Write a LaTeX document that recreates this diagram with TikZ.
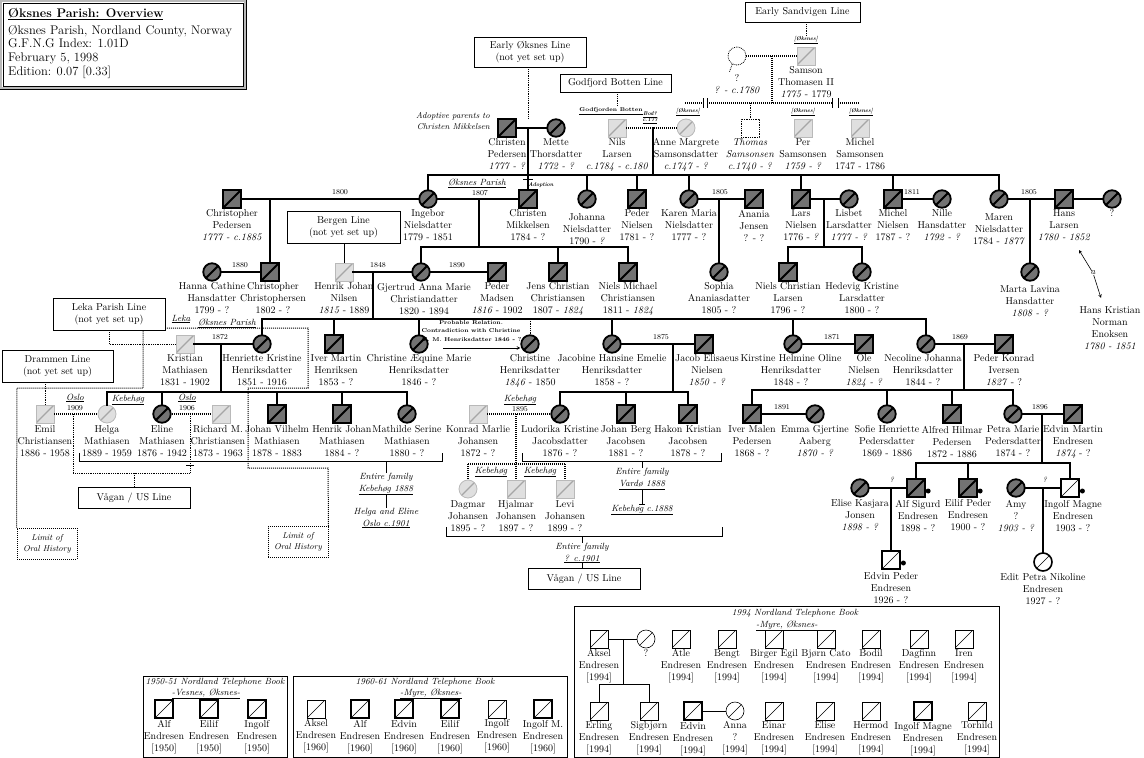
\documentclass[tikz,border=0pt]{standalone}
\usepackage{fontspec}
\usepackage{tikz}
\usetikzlibrary{positioning,calc,arrows}

\newcommand{\yr}[1]{\textit{#1}}
\newcommand{\seen}[1]{{[#1]}}

\begin{document}
\begin{tikzpicture}[
    x=1pt, y=-1pt,
    sym/.style={draw, line width=1.8pt, fill=black!55, minimum size=17.5pt, inner sep=0pt,
      path picture={\draw[line width=2pt] (path picture bounding box.south west) -- (path picture bounding box.north east);}},
    male/.style={sym, rectangle},
    female/.style={sym, circle},
    pale/.style={draw=gray!55, line width=0.8pt, fill=gray!25, minimum size=18pt, inner sep=0pt,
      path picture={\draw[gray!70, line width=1.2pt] (path picture bounding box.south west) -- (path picture bounding box.north east);}},
    palem/.style={pale, rectangle},
    palef/.style={pale, circle},
    open/.style={draw, line width=0.6pt, fill=white, minimum size=18pt, inner sep=0pt,
      path picture={\draw[line width=0.6pt] (path picture bounding box.south west) -- (path picture bounding box.north east);}},
    openm/.style={open, rectangle},
    openf/.style={open, circle},
    openmh/.style={open, rectangle, line width=1.8pt},
    who/.style={font=\fontsize{10}{12}\selectfont, align=center, inner sep=0pt},
    yrl/.style={font=\fontsize{7.5}{8}\selectfont, inner sep=0pt},
    smalltag/.style={font=\fontsize{5.5}{6}\selectfont\bfseries\itshape, inner sep=0pt, align=center},
    loc/.style={font=\fontsize{9}{12}\selectfont\itshape, inner sep=0pt, align=center},
    linebox/.style={draw, line width=0.6pt, fill=white, font=\fontsize{10}{12}\selectfont, align=center, inner sep=0pt},
    fam/.style={line width=2.6pt, line cap=rect},
    dfam/.style={line width=1.5pt, dash pattern=on 1pt off 1pt},
    link/.style={line width=0.6pt},
    dlink/.style={line width=0.8pt, densely dotted},
    parish/.style={line width=1pt, densely dotted},
    bullet/.style={circle, fill, inner sep=0pt, minimum size=5pt},
    arrow/.style={->, >=stealth, line width=0.6pt}
]
\useasboundingbox (0,0) rectangle (1144,758);

% Title box
\node[draw, line width=0.6pt, minimum width=240pt, minimum height=83pt, inner sep=0pt] (head) at (123,44.5) {};
\draw[gray!55, line width=2.4pt] ($(head.north west)+(-1.5,-1.5)$) rectangle ($(head.south east)+(1.5,1.5)$);
\draw[line width=0.6pt] ($(head.north west)+(-3,-3)$) rectangle ($(head.south east)+(3,3)$);
\node[anchor=north west, align=left, inner sep=0pt, font=\fontsize{12.5}{13.7}\selectfont] (headT) at (8,8)
  {\textbf{\underline{Øksnes Parish: Overview}}\\[3pt]Øksnes Parish, Nordland County, Norway\\G.F.N.G Index: 1.01D\\February 5, 1998\\Edition: 0.07 [0.33]};

% Early Sandvigen line
\node[linebox, minimum width=115pt, minimum height=20pt] (sandvig) at (802.5,12) {Early Sandvigen Line};
\node[smalltag] (oks0) at (806,40) {\underline{[Øksnes]}};
\node[palem] (samson) at (806,56) {};
\node[who, below=1pt of samson] (samsonT) {Samson\\Thomasen II\\\yr{1775} - 1779};
\node[circle, draw, densely dotted, line width=0.8pt, minimum size=18pt, inner sep=0pt] (qmom) at (737,56) {};
\draw[dlink] (qmom.240) -- ++(-3,8);
\node[who, below=9pt of qmom] (qmomT) {?\\\yr{? - c.1780}};
\draw[dlink] (sandvig.south -| oks0) -- (oks0);
\draw[dfam] (qmom) -- (samson);
\coordinate (sv) at (772,56);
\coordinate (svK) at (772,103);
\draw[dfam] (sv) -- (svK);

% broken sibling line of Samson's children
\coordinate (sibA) at (685,103);
\coordinate (cutA) at (703,103);
\coordinate (cutB) at (707,103);
\coordinate (cutC) at (832,103);
\coordinate (cutD) at (838,103);
\coordinate (sibB) at (860,103);
\draw[dfam] (sibA) -- (cutA);
\draw[dfam] (cutB) -- (cutC);
\draw[dfam] (cutD) -- (sibB);
\foreach \c in {cutA, cutB, cutC, cutD}
  \draw[link] ($(\c)+(0,-5)$) -- ($(\c)+(0,5)$);
\node[smalltag] (oks1) at (688,112) {\underline{[Øksnes]}};
\node[smalltag] (oks2) at (803,112) {\underline{[Øksnes]}};
\node[smalltag] (oks3) at (861,112) {\underline{[Øksnes]}};

\node[palef] (anne) at (686,128) {};
\node[draw, densely dotted, line width=0.8pt, minimum size=18pt, inner sep=0pt] (thomas) at (750,128) {};
\node[palem] (per) at (803,128) {};
\node[palem] (michel) at (860,128) {};
\draw[dlink] (svK -| thomas) -- (thomas);
\node[who, below=1pt of anne] (anneT) {Anne Margrete\\Samsonsdatter\\\yr{c.1747 - ?}};
\node[who, below=1pt of thomas] (thomasT) {\textit{Thomas}\\\textit{Samsonsen}\\\yr{c.1740 - ?}};
\node[who, below=1pt of per] (perT) {Per\\Samsonsen\\\yr{1759 - ?}};
\node[who, below=1pt of michel] (michelT) {Michel\\Samsonsen\\1747 - 1786};

% Godfjord Botten
\node[linebox, minimum width=111pt, minimum height=18pt] (godfjord) at (615.5,83) {Godfjord Botten Line};
\node[smalltag, font=\fontsize{5.5}{6}\selectfont\bfseries] (gbl) at (611,111) {\underline{Godfjorden Botten}};
\coordinate (gb) at (617,106);
\draw[dlink] (godfjord.south -| gb) -- (gb);
\node[palem] (nils) at (617,128) {};
\node[who, below=1pt of nils] (nilsT) {Nils\\Larsen\\\yr{c.1784 - c.180}};
\draw[dfam] (nils) -- (anne);
\node[smalltag] (bod) at (650,118) {\underline{Bod?}\\\underline{c.177}};
\coordinate (na) at (653,128);
\coordinate (naK) at (653,175);
\draw[fam] (na) -- (naK);

% Early Oksnes
\node[linebox, minimum width=112pt, minimum height=30pt] (earlyoks) at (530,52) {Early Øksnes Line\\(not yet set up)};
\coordinate (eo) at (528,118);
\draw[dlink] (earlyoks.south -| eo) -- (eo);
\node[male] (chrped) at (507,128) {};
\node[female] (mette) at (556,128) {};
\node[who, below=1pt of chrped] (chrpedT) {Christen\\Pedersen\\\yr{1777 - ?}};
\node[who, below=1pt of mette] (metteT) {Mette\\Thorsdatter\\\yr{1772 - ?}};
\draw[fam] (chrped) -- (mette);
\node[loc, align=right, anchor=east, font=\fontsize{8.5}{11}\selectfont\itshape] (adoptT) at (490,121) {Adoptive parents to\\Christen Mikkelsen};
\coordinate (ad) at (528,128);

% Generation: Nielsen children
\node[male] (chrisp) at (232,199) {};
\node[female] (ingebor) at (428,199) {};
\node[male] (chmik) at (528,199) {};
\node[female] (johanna) at (587,199) {};
\node[male] (pedniel) at (637,199) {};
\node[female] (karen) at (689,199) {};
\node[male] (anania) at (754,199) {};
\node[male] (lars) at (801,199) {};
\node[female] (lisbet) at (849,199) {};
\node[male] (michniel) at (893,199) {};
\node[female] (nille) at (942,199) {};
\node[female] (maren) at (999,199) {};
\node[male] (hans) at (1064,199) {};
\node[female] (hansw) at (1112,199) {};

\node[who, below=1pt of chrisp] (chrispT) {Christopher\\Pedersen\\\yr{1777 - c.1885}};
\node[who, below=1pt of ingebor] (ingeborT) {Ingebor\\Nielsdatter\\1779 - 1851};
\node[who, below=1pt of chmik] (chmikT) {Christen\\Mikkelsen\\1784 - ?};
\node[who, below=5pt of johanna] (johannaT) {Johanna\\Nielsdatter\\1790 - \yr{?}};
\node[who, below=1pt of pedniel] (pednielT) {Peder\\Nielsen\\1781 - ?};
\node[who, below=1pt of karen] (karenT) {Karen Maria\\Nielsdatter\\1777 - ?};
\node[who, below=1pt of anania] (ananiaT) {Anania\\Jensen\\? - ?};
\node[who, below=1pt of lars] (larsT) {Lars\\Nielsen\\1776 - \yr{?}};
\node[who, below=1pt of lisbet] (lisbetT) {Lisbet\\Larsdatter\\\yr{1777 - ?}};
\node[who, below=1pt of michniel] (michnielT) {Michel\\Nielsen\\1787 - ?};
\node[who, below=1pt of nille] (nilleT) {Nille\\Hansdatter\\\yr{1792 - ?}};
\node[who, below=5pt of maren] (marenT) {Maren\\Nielsdatter\\1784 - \yr{1877}};
\node[who, below=1pt of hans] (hansT) {Hans\\Larsen\\\yr{1780 - 1852}};
\node[who, below=1pt of hansw] (hanswT) {?};

\draw[fam] (ingebor |- naK) -- (maren |- naK);
\foreach \c in {ingebor, johanna, pedniel, karen, lars, michniel, maren}
  \draw[fam] (\c |- naK) -- (\c);
\draw[fam] (ad) -- (chmik);
\draw[line width=1pt] (523,179.5) -- (533,179.5);
\node[smalltag] (adoptL) at (541,185) {Adoption};

\draw[fam] (chrisp) -- (ingebor);
\node[yrl] (y1800) at (340,192) {1800};
\draw[fam] (ingebor) -- (chmik);
\node[loc] (oksp1) at (477,183) {\underline{Øksnes Parish}};
\node[yrl] (y1807) at (480,193) {1807};
\draw[fam] (karen) -- (anania);
\node[yrl] (y1805a) at (720,192) {1805};
\draw[fam] (lars) -- (lisbet);
\draw[fam] (michniel) -- (nille);
\node[yrl] (y1811) at (912,192) {1811};
\draw[fam] (maren) -- (hans);
\node[yrl] (y1805b) at (1029,192) {1805};
\draw[fam] (hans) -- (hansw);

% Generation: grandchildren
\node[linebox, minimum width=113pt, minimum height=32pt] (bergen) at (343.5,227) {Bergen Line\\(not yet set up)};
\node[female] (hanna) at (212,272) {};
\node[male] (chrchr) at (270,272) {};
\node[palem] (henrik) at (344,272) {};
\node[female] (gjert) at (421,272) {};
\node[male] (pedmad) at (497,272) {};
\node[male] (jens) at (558,272) {};
\node[male] (nielsm) at (628,272) {};
\node[female] (sophia) at (719,272) {};
\node[male] (nchrl) at (788,272) {};
\node[female] (hedevig) at (862,272) {};
\node[female] (marta) at (1030,272) {};

\node[who, below=1pt of hanna] (hannaT) {Hanna Cathine\\Hansdatter\\1799 - ?};
\node[who, below=1pt of chrchr, xshift=3pt] (chrchrT) {Christopher\\Christophersen\\1802 - ?};
\node[who, below=1pt of henrik] (henrikT) {Henrik Johan\\Nilsen\\\yr{1815} - 1889};
\node[who, below=1pt of gjert, xshift=3pt] (gjertT) {Gjertrud Anna Marie\\Christiandatter\\1820 - 1894};
\node[who, below=1pt of pedmad] (pedmadT) {Peder\\Madsen\\\yr{1816} - 1902};
\node[who, below=1pt of jens] (jensT) {Jens Christian\\Christiansen\\1807 - \yr{1824}};
\node[who, below=1pt of nielsm] (nielsmT) {Niels Michael\\Christiansen\\1811 - \yr{1824}};
\node[who, below=1pt of sophia] (sophiaT) {Sophia\\Ananiasdatter\\1805 - ?};
\node[who, below=1pt of nchrl] (nchrlT) {Niels Christian\\Larsen\\1796 - ?};
\node[who, below=1pt of hedevig] (hedevigT) {Hedevig Kristine\\Larsdatter\\1800 - ?};
\node[who, below=4pt of marta] (martaT) {Marta Lavina\\Hansdatter\\\yr{1808 - ?}};

\coordinate (cpi) at (270,199);
\draw[fam] (cpi) -- (chrchr);
\coordinate (ic) at (479,199);
\coordinate (icK) at (479,247);
\draw[fam] (ic) -- (icK);
\draw[fam] (gjert |- icK) -- (nielsm |- icK);
\foreach \c in {gjert, jens, nielsm}
  \draw[fam] (\c |- icK) -- (\c);
\coordinate (ka) at (719,199);
\draw[fam] (ka) -- (sophia);
\coordinate (ll) at (824,199);
\coordinate (llK) at (824,247);
\draw[fam] (ll) -- (llK);
\draw[fam] (nchrl |- llK) -- (hedevig |- llK);
\foreach \c in {nchrl, hedevig}
  \draw[fam] (\c |- llK) -- (\c);
\coordinate (mh) at (1030,199);
\draw[fam] (mh) -- (marta);
\draw[link] (bergen.south -| henrik) -- (henrik);

% Hans Larsen aka Hans Kristian
\node[who] (hkne) at (1110,328) {Hans Kristian\\Norman\\Enoksen\\\yr{1780 - 1851}};
\node[loc] (aka) at (1093,273) {a};
\coordinate (hlA) at (1079,250);
\coordinate (hkA) at (1101,298);
\draw[arrow] (aka) -- (hlA);
\draw[arrow] (aka) -- (hkA);

% Generation: Henriksen children
\node[linebox, minimum width=112pt, minimum height=32pt] (leka) at (109,314) {Leka Parish Line\\(not yet set up)};
\node[linebox, minimum width=111pt, minimum height=32pt] (drammen) at (57.5,366) {Drammen Line\\(not yet set up)};
\node[palem] (kristian) at (185,344) {};
\node[female] (henriette) at (262,344) {};
\node[male] (ivermar) at (334,344) {};
\node[female] (chraeq) at (419,344) {};
\node[female] (christine) at (530,344) {};
\node[female] (jacobine) at (612,344) {};
\node[male] (jacob) at (704,344) {};
\node[female] (kirstine) at (793,344) {};
\node[male] (ole) at (864,344) {};
\node[female] (necoline) at (926,344) {};
\node[male] (pedkon) at (1004,344) {};

\node[who, below=1pt of kristian] (kristianT) {Kristian\\Mathiasen\\1831 - 1902};
\node[who, below=1pt of henriette] (henrietteT) {Henriette Kristine\\Henriksdatter\\1851 - 1916};
\node[who, below=1pt of ivermar, xshift=2pt] (ivermarT) {Iver Martin\\Henriksen\\1853 - ?};
\node[who, below=1pt of chraeq] (chraeqT) {Christine Æquine Marie\\Henriksdatter\\1846 - ?};
\node[who, below=1pt of christine] (christineT) {Christine\\Henriksdatter\\\yr{1846} - 1850};
\node[who, below=1pt of jacobine] (jacobineT) {Jacobine Hansine Emelie\\Henriksdatter\\1858 - ?};
\node[who, below=1pt of jacob, xshift=3pt] (jacobT) {Jacob Elisaeus\\Nielsen\\\yr{1850 - ?}};
\node[who, below=1pt of kirstine, xshift=-2pt] (kirstineT) {Kirstine Helmine Oline\\Henriksdatter\\1848 - ?};
\node[who, below=1pt of ole] (oleT) {Ole\\Nielsen\\\yr{1824 - ?}};
\node[who, below=1pt of necoline, xshift=-3pt] (necolineT) {Necoline Johanna\\Henriksdatter\\1844 - ?};
\node[who, below=1pt of pedkon] (pedkonT) {Peder Konrad\\Iversen\\\yr{1827} - ?};

\draw[fam] (hanna) -- (chrchr);
\node[yrl] (y1880) at (240,265) {1880};
\draw[fam] (henrik) -- (gjert);
\node[yrl] (y1848) at (378,265) {1848};
\draw[fam] (gjert) -- (pedmad);
\node[yrl] (y1890) at (457,265) {1890};
\coordinate (hg) at (373,272);
\coordinate (hgK) at (373,319);
\draw[fam] (hg) -- (hgK);
\draw[fam] (henriette |- hgK) -- (necoline |- hgK);
\foreach \c in {henriette, ivermar, chraeq, jacobine, kirstine, necoline}
  \draw[fam] (\c |- hgK) -- (\c);
\draw[dlink] (christine |- hgK) -- (christine);
\node[smalltag, font=\fontsize{5.6}{8.5}\selectfont\bfseries] (probT) at (471,331) {Probable Relation.\\Contradiction with Christine\\Æ. M. Henriksdatter 1846 - ?};
\coordinate (prA) at (443,348);
\draw[arrow] (prA) -- (christine.west |- prA);
\draw[dlink] (leka) |- (kristian);

% Generation: great-grandchildren
\node[palem] (emil) at (45,414) {};
\node[palef] (helga) at (107,414) {};
\node[female] (eline) at (162,414) {};
\node[palem] (richard) at (221,414) {};
\node[male] (johvil) at (277,414) {};
\node[male] (henjoh) at (342,414) {};
\node[female] (mathilde) at (407,414) {};
\node[palem] (konrad) at (478,414) {};
\node[female] (ludorika) at (560,414) {};
\node[male] (johberg) at (626,414) {};
\node[male] (hakon) at (688,414) {};
\node[male] (ivermal) at (752,414) {};
\node[female] (emma) at (815,414) {};
\node[female] (sofie) at (887,414) {};
\node[male] (alfred) at (952,414) {};
\node[female] (petra) at (1013,414) {};
\node[male] (edvinm) at (1073,414) {};

\node[who, below=2pt of emil] (emilT) {Emil\\Christiansen\\1886 - 1958};
\node[who, below=2pt of helga] (helgaT) {Helga\\Mathiasen\\1889 - 1959};
\node[who, below=2pt of eline] (elineT) {Eline\\Mathiasen\\1876 - 1942};
\node[who, below=2pt of richard, xshift=-3pt] (richardT) {Richard M.\\Christiansen\\1873 - 1963};
\node[who, below=2pt of johvil] (johvilT) {Johan Vilhelm\\Mathiasen\\1878 - 1883};
\node[who, below=2pt of henjoh] (henjohT) {Henrik Johan\\Mathiasen\\1884 - ?};
\node[who, below=2pt of mathilde] (mathildeT) {Mathilde Serine\\Mathiasen\\1880 - ?};
\node[who, below=2pt of konrad] (konradT) {Konrad Marlie\\Johansen\\1872 - ?};
\node[who, below=2pt of ludorika] (ludorikaT) {Ludorika Kristine\\Jacobsdatter\\1876 - ?};
\node[who, below=2pt of johberg] (johbergT) {Johan Berg\\Jacobsen\\1881 - ?};
\node[who, below=2pt of hakon] (hakonT) {Hakon Kristian\\Jacobsen\\1878 - ?};
\node[who, below=2pt of ivermal] (ivermalT) {Iver Malen\\Pedersen\\1868 - ?};
\node[who, below=2pt of emma] (emmaT) {Emma Gjertine\\Aaberg\\\yr{1870 - ?}};
\node[who, below=2pt of sofie] (sofieT) {Sofie Henriette\\Pedersdatter\\1869 - 1886};
\node[who, below=2pt of alfred] (alfredT) {Alfred Hilmar\\Pedersen\\1872 - 1886};
\node[who, below=2pt of petra] (petraT) {Petra Marie\\Pedersdatter\\1874 - ?};
\node[who, below=2pt of edvinm] (edvinmT) {Edvin Martin\\Endresen\\\yr{1874} - ?};

\draw[fam] (kristian) -- (henriette);
\node[yrl] (y1872) at (220,337) {1872};
\coordinate (kh) at (221,344);
\coordinate (khK) at (221,392);
\draw[fam] (kh) -- (khK);
\draw[fam] (helga |- khK) -- (mathilde |- khK);
\foreach \c in {helga, eline, johvil, henjoh, mathilde}
  \draw[fam] (\c |- khK) -- (\c);
\node[loc] (keb0) at (128,400) {\underline{Kebehøg}};

\draw[fam] (jacobine) -- (jacob);
\node[yrl] (y1875) at (661,337) {1875};
\coordinate (jj) at (673,344);
\coordinate (jjK) at (673,392);
\draw[fam] (jj) -- (jjK);
\draw[fam] (ludorika |- jjK) -- (hakon |- jjK);
\foreach \c in {ludorika, johberg, hakon}
  \draw[fam] (\c |- jjK) -- (\c);

\draw[fam] (kirstine) -- (ole);
\node[yrl] (y1871) at (832,337) {1871};
\draw[fam] (necoline) -- (pedkon);
\node[yrl] (y1869) at (960,337) {1869};
\coordinate (np) at (964,344);
\coordinate (npK) at (964,390);
\draw[fam] (np) -- (npK);
\draw[fam] (ivermal |- npK) -- (petra |- npK);
\foreach \c in {ivermal, sofie, alfred, petra}
  \draw[fam] (\c |- npK) -- (\c);

% Oslo marriages and Vagan line
\draw[dlink] (drammen.south -| emil) -- (emil);
\draw[dfam] (emil) -- (helga);
\node[loc] (oslo1) at (75,398) {\underline{Oslo}};
\node[yrl] (y1909) at (75,408) {1909};
\draw[dfam] (eline) -- (richard);
\node[loc] (oslo2) at (187,398) {\underline{Oslo}};
\node[yrl] (y1906) at (187,408) {1906};
\coordinate (eh) at (73,414);
\coordinate (ehK) at (73,473);
\coordinate (er) at (190,414);
\coordinate (erK) at (190,473);
\draw[dlink] (eh) -- (ehK) -- (erK) -- (er);
\node[linebox, minimum width=112pt, minimum height=21pt] (vagan1) at (134,497.5) {Vågan / US Line};
\draw[dlink] (vagan1 |- ehK) -- (vagan1);
\draw[line width=1pt] (186,465.5) -- (194,465.5);

% Parish border
\node[draw, parish, loc, font=\fontsize{8.5}{11}\selectfont\itshape, minimum width=60pt, minimum height=31pt] (limit1) at (47,543.5) {Limit of\\Oral History};
\node[draw, parish, loc, font=\fontsize{8.5}{11}\selectfont\itshape, minimum width=60pt, minimum height=31pt] (limit2) at (298,542) {Limit of\\Oral History};
\draw[parish] (limit1.north west) -- (17,388) -- (143,388) -- (143,330);
\draw[parish] (165,328) -- (308,328) -- (308,388) -- (248,388) -- (248,468) -- (328,468) -- (limit2.north east);
\node[loc] (lekaL) at (181,319) {\underline{Leka}};
\node[loc] (oksp2) at (227,323) {\underline{Øksnes Parish}};

% Family brackets
\coordinate (bkA) at (79,461);
\coordinate (bkB) at (442,461);
\draw[link] ($(bkA)+(0,-8)$) -- (bkA) -- (bkB) -- ++(0,-8);
\node[loc] (fam1) at (386,484) {Entire family\\\underline{Kebehøg 1888}};
\node[loc] (fam2) at (386,518) {Helga and Eline\\\underline{Oslo c.1901}};
\draw[link] (fam1 |- bkA) -- (fam1);
\draw[link] (fam1) -- (fam2);

\coordinate (bk3A) at (522,461);
\coordinate (bk3B) at (721,461);
\draw[link] ($(bk3A)+(0,-8)$) -- (bk3A) -- (bk3B) -- ++(0,-8);
\node[loc] (fam4) at (642,479) {Entire family\\\underline{Vardø 1888}};
\node[loc] (keb4) at (642,510) {\underline{Kebehøg c.1888}};
\draw[link] (fam4 |- bk3A) -- (fam4);
\draw[link] (fam4) -- (keb4);
\draw[link] ($(keb4.north)+(-3,0)$) -- ++(6,0);

% Konrad and Ludorika
\draw[dfam] (konrad) -- (ludorika);
\node[loc] (keb1) at (520,400) {\underline{Kebehøg}};
\node[yrl] (y1895) at (520,409) {1895};
\node[palef] (dagmar) at (468,489) {};
\node[palem] (hjalmar) at (516,489) {};
\node[palem] (levi) at (565,489) {};
\node[who, below=2pt of dagmar] (dagmarT) {Dagmar\\Johansen\\1895 - ?};
\node[who, below=2pt of hjalmar] (hjalmarT) {Hjalmar\\Johansen\\1897 - ?};
\node[who, below=2pt of levi] (leviT) {Levi\\Johansen\\1899 - ?};
\coordinate (kl) at (516,414);
\coordinate (klK) at (516,464);
\draw[dfam] (kl) -- (klK);
\draw[dfam] (dagmar |- klK) -- (levi |- klK);
\foreach \c in {dagmar, hjalmar, levi}
  \draw[dfam] (\c |- klK) -- (\c);
\node[loc] (keb2) at (491,472) {\underline{Kebehøg}};
\node[loc] (keb3) at (540,472) {\underline{Kebehøg}};

\coordinate (bk2A) at (446,536);
\coordinate (bk2B) at (722,536);
\draw[link] ($(bk2A)+(0,-9)$) -- (bk2A) -- (bk2B) -- ++(0,-9);
\node[loc] (fam3) at (582,553) {Entire family\\\underline{? c.1901}};
\node[linebox, minimum width=112pt, minimum height=21pt] (vagan2) at (584,578.5) {Vågan / US Line};
\draw[link] (fam3 |- bk2A) -- (fam3);
\draw[link] (fam3) -- (fam3 |- vagan2.north);

% Endresen family
\draw[fam] (ivermal) -- (emma);
\node[yrl] (y1891) at (782,407) {1891};
\draw[fam] (petra) -- (edvinm);
\node[yrl] (y1896) at (1040,407) {1896};
\node[female] (elise) at (860,488) {};
\node[male] (alfsig) at (916,488) {};
\node[male] (eilif) at (968,488) {};
\node[female] (amy) at (1016,488) {};
\node[openmh] (ingolf) at (1070,488) {};
\node[who, below=2pt of elise] (eliseT) {Elise Kasjara\\Jonsen\\\yr{1898 - ?}};
\node[who, below=2pt of alfsig, xshift=2pt] (alfsigT) {Alf Sigurd\\Endresen\\1898 - ?};
\node[who, below=2pt of eilif] (eilifT) {Eilif Peder\\Endresen\\1900 - ?};
\node[who, below=2pt of amy] (amyT) {Amy\\?\\\yr{1903 - ?}};
\node[who, below=2pt of ingolf, xshift=3pt] (ingolfT) {Ingolf Magne\\Endresen\\1903 - ?};
\coordinate (pe) at (1042,414);
\coordinate (peK) at (1042,463);
\draw[fam] (pe) -- (peK);
\draw[fam] (alfsig |- peK) -- (ingolf |- peK);
\foreach \c in {alfsig, eilif, ingolf}
  \draw[fam] (\c |- peK) -- (\c);

\node[openmh] (edvinp) at (891,560) {};
\node[openf, line width=1.6pt] (edit) at (1043,562) {};
\node[who, below=2pt of edvinp] (edvinpT) {Edvin Peder\\Endresen\\1926 - ?};
\node[who, below=2pt of edit] (editT) {Edit Petra Nikoline\\Endresen\\1927 - ?};
\draw[fam] (elise) -- (alfsig);
\node[yrl] (yq1) at (892,480) {\textit{?}};
\coordinate (ea) at (891,488);
\draw[fam] (ea) -- (edvinp);
\draw[fam] (amy) -- (ingolf);
\node[yrl] (yq2) at (1045,480) {\textit{?}};
\coordinate (ai) at (1043,488);
\draw[fam] (ai) -- (edit);
\foreach \c in {alfsig, eilif, ingolf, edvinp}
  \node[bullet] (\c dot) at ($(\c.east)+(2.5,3)$) {};

% 1950-51 telephone book
\node[draw, link, minimum width=144pt, minimum height=81pt, inner sep=0pt] (book50) at (215,716.5) {};
\node[loc] (book50T) at (215,682) {1950-51 Nordland Telephone Book};
\node[loc] (book50S) at (206,694) {\underline{-Vesnes, Øksnes-}};
\foreach \x/\n/\s/\q in {164/Alf/openmh/a, 209/Eilif/openmh/b, 257/Ingolf/openmh/c} {
  \node[\s] (b50\q) at (\x,709) {};
  \node[who, below=1pt of b50\q] (b50\q T) {\n\\Endresen\\\seen{1950}};
}

% 1960-61 telephone book
\node[draw, link, minimum width=274pt, minimum height=81pt, inner sep=0pt] (book60) at (430,716.5) {};
\node[loc] (book60T) at (425,682) {1960-61 Nordland Telephone Book};
\node[loc] (book60S) at (431,694) {\underline{-Myre, Øksnes-}};
\foreach \x/\n/\s/\q in {316/Aksel/openm/a, 360/Alf/openmh/b, 404/Edvin/openmh/c,
    450/Eilif/openmh/d, 497/Ingolf/openm/e, 543/Ingolf M./openmh/f} {
  \node[\s] (b60\q) at (\x,709) {};
  \node[who, below=1pt of b60\q] (b60\q T) {\n\\Endresen\\\seen{1960}};
}

% 1994 telephone book
\node[draw, link, minimum width=425pt, minimum height=151pt, inner sep=0pt] (book94) at (786.5,681.5) {};
\node[loc] (book94T) at (795,613) {1994 Nordland Telephone Book};
\node[loc] (book94S) at (787,626) {\underline{-Myre, Øksnes-}};
\foreach \x/\n/\q in {599/Aksel/a, 681/Atle/b, 727/Bengt/c, 774/Birger Egil/d, 826/Bjørn Cato/e,
    871/Bodil/f, 919/Dagfinn/g, 964/Iren/h} {
  \node[openm] (b94\q) at (\x,639) {};
  \node[who, below=1pt of b94\q] (b94\q T) {\n\\Endresen\\\seen{1994}};
}
\foreach \x/\n/\s/\q in {599/Erling/openm/i, 649/Sigbjørn/openm/j, 693/Edvin/openmh/k, 774/Einar/openm/l,
    825/Elise/openm/m, 871/Hermod/openm/n, 923/Ingolf Magne/openmh/o, 977/Torhild/openm/p} {
  \node[\s] (b94\q) at (\x,711) {};
  \node[who, below=1pt of b94\q] (b94\q T) {\n\\Endresen\\\seen{1994}};
}
\node[openf] (b94w) at (646,639) {};
\node[who, below=1pt of b94w] (b94wT) {?};
\node[openf] (b94an) at (735,711) {};
\node[who, below=1pt of b94an] (b94anT) {Anna\\?\\\seen{1994}};
\draw[link] (b94a) -- (b94w);
\coordinate (aw) at (623,639);
\coordinate (awK) at (623,684);
\draw[link] (aw) -- (awK);
\draw[link] (b94i |- awK) -- (b94j |- awK);
\foreach \c in {b94i, b94j}
  \draw[link] (\c |- awK) -- (\c);
\draw[link] (b94k) -- (b94an);

\end{tikzpicture}
\end{document}
